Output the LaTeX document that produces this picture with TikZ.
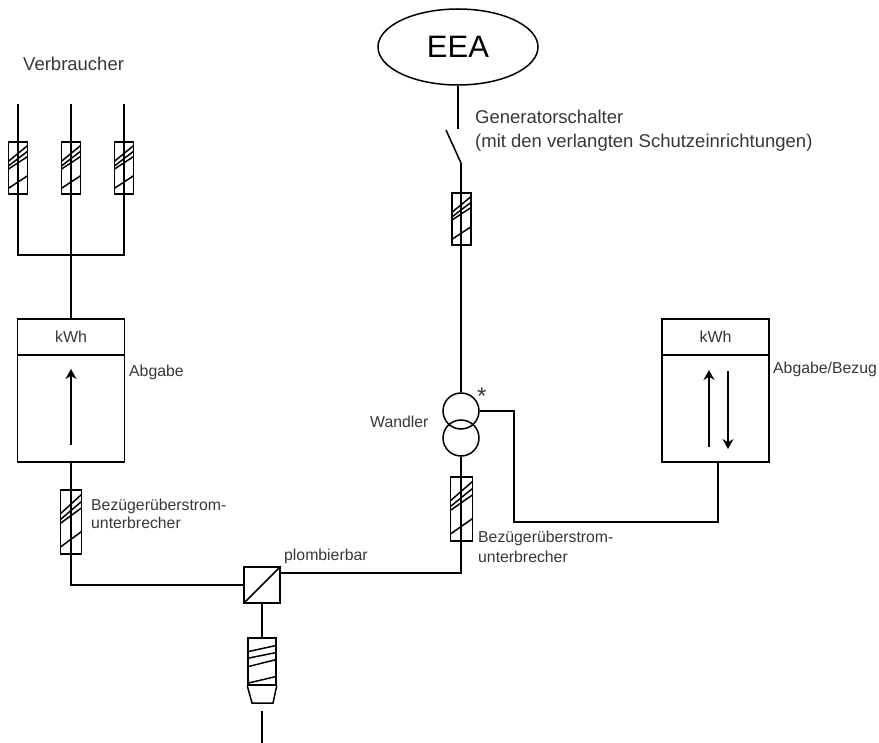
\documentclass[tikz,border=0pt]{standalone}
\usepackage{fontspec}
\setmainfont{Liberation Sans}
\usetikzlibrary{arrows.meta, calc, positioning, shapes.geometric}
\definecolor{color1}{RGB}{55,55,55}
\tikzset{
  wire/.style={line width=1.5pt},
  fuse/.style={draw,wire,rectangle,inner sep=0pt,minimum width=#1,
    path picture={
      \foreach \a/\b in {.63/.93,.54/.82,.48/.72,.11/.35}
        \draw[wire] ($(path picture bounding box.south west)!\a!(path picture bounding box.north west)$) -- ($(path picture bounding box.south east)!\b!(path picture bounding box.north east)$);
    }},
  fusewide/.style={draw,wire,rectangle,inner sep=0pt,minimum width=28pt,minimum height=47pt,
    path picture={
      \foreach \a/\b in {.71/.84,.57/.69,.39/.54,.04/.18}
        \draw[wire] ($(path picture bounding box.south west)!\a!(path picture bounding box.north west)$) -- ($(path picture bounding box.south east)!\b!(path picture bounding box.north east)$);
    }},
  meterhead/.style={draw,wire,rectangle,inner sep=0pt,minimum width=107pt,minimum height=36pt,font=\fontsize{16}{18}\selectfont,text=color1},
  meterbody/.style={draw,wire,rectangle,inner sep=0pt,minimum width=107pt,minimum height=107pt},
  coil/.style={draw,wire,circle,inner sep=0pt,minimum size=36pt},
  smalltext/.style={anchor=base west,inner sep=0pt,font=\fontsize{15.8}{18}\selectfont,text=color1},
  bigtext/.style={anchor=base west,inner sep=0pt,font=\fontsize{18.5}{22}\selectfont,text=color1},
  flow/.style={wire,-{Stealth[length=10pt,width=11pt]}}
}
\begin{document}
\begin{tikzpicture}[x=1pt,y=-1pt]
  \useasboundingbox (0,0) rectangle (879,743);
  % consumers
  \node[bigtext] (verbraucher) at (23,71) {Verbraucher};
  \node[fuse=19pt,minimum height=52pt] (fuseA) at (18,168) {};
  \node[fuse=19pt,minimum height=52pt] (fuseB) at (71,168) {};
  \node[fuse=19pt,minimum height=52pt] (fuseC) at (124,168) {};
  \coordinate (topA) at (18,104);
  \coordinate (topB) at (71,104);
  \coordinate (topC) at (124,104);
  \coordinate (bar) at (71,255);
  \draw[wire] (topA) |- (bar) -| (topC);
  % left meter
  \node[meterhead] (kwhL) at (71,337) {kWh};
  \node[meterbody] (meterL) at (71,408.5) {};
  \draw[wire] (topB) -- (kwhL.north);
  \coordinate (upLa) at (71,445);
  \coordinate (upLb) at (71,369);
  \draw[flow] (upLa) -- (upLb);
  \node[smalltext] (abgabe) at (129,377) {Abgabe};
  \node[fuse=21pt,minimum height=64pt] (fuseL) at (71,522) {};
  \node[smalltext] (bezugL) at (91,511) {Bezügerüberstrom-};
  \node[smalltext] (unterL) at (91,529) {unterbrecher};
  % plomb box
  \node[draw,wire,rectangle,inner sep=0pt,minimum size=36pt] (plomb) at (262,585) {};
  \draw[wire] (plomb.south west) -- (plomb.north east);
  \node[smalltext] (plombtext) at (284,560) {plombierbar};
  \draw[wire] (meterL.south) |- (plomb.west);
  % main fuse
  \node[fusewide] (fuseM) at (262,661.5) {};
  \coordinate (capL) at (252,703);
  \coordinate (capR) at (273,703);
  \draw[wire] (fuseM.south west) -- (capL) -- (capR) -- (fuseM.south east);
  \coordinate (grid) at (262,743);
  \coordinate (gridtop) at (262,711);
  \draw[wire] (plomb.south) -- (fuseM.north);
  \draw[wire] (gridtop) -- (grid);
  % generator
  \node[draw,wire,ellipse,inner sep=0pt,minimum width=160pt,minimum height=76pt,font=\fontsize{31}{36}\selectfont] (eea) at (458,47) {EEA};
  \coordinate (swTop) at (458,129);
  \coordinate (swFree) at (446,130);
  \coordinate (swBot) at (461,163);
  \draw[wire] (eea.south) -- (swTop);
  \draw[wire] (swFree) -- (swBot);
  \node[bigtext] (gen1) at (475,124) {Generatorschalter};
  \node[bigtext] (gen2) at (475,148) {(mit den verlangten Schutzeinrichtungen)};
  \node[fuse=19pt,minimum height=52pt] (fuseG) at (461.5,219) {};
  % transformer
  \node[coil] (wandA) at (461,411) {};
  \node[coil] (wandB) at (461,438) {};
  \node[smalltext] (wandler) at (370,428) {Wandler};
  \node[smalltext,font=\fontsize{24}{24}\selectfont] (star) at (477,405) {*};
  \draw[wire] (swBot) -- (wandA.north);
  \node[fuse=22pt,minimum height=64pt] (fuseW) at (461.5,509) {};
  \node[smalltext] (bezugR) at (478,542) {Bezügerüberstrom-};
  \node[smalltext] (unterR) at (478,562) {unterbrecher};
  \draw[wire] (wandB.south) |- ([yshift=12pt]plomb.east);
  % right meter
  \node[meterhead] (kwhR) at (715.5,337) {kWh};
  \node[meterbody] (meterR) at (715.5,408.5) {};
  \coordinate (upRa) at (709,447);
  \coordinate (upRb) at (709,370);
  \coordinate (downRa) at (728,371);
  \coordinate (downRb) at (728,449);
  \draw[flow] (upRa) -- (upRb);
  \draw[flow] (downRa) -- (downRb);
  \node[smalltext] (abgabebezug) at (773,374) {Abgabe/Bezug};
  \coordinate (bend) at (514,522);
  \coordinate (meterin) at (718,462);
  \draw[wire] (wandA.east) -| (bend) -| (meterin);
\end{tikzpicture}
\end{document}
